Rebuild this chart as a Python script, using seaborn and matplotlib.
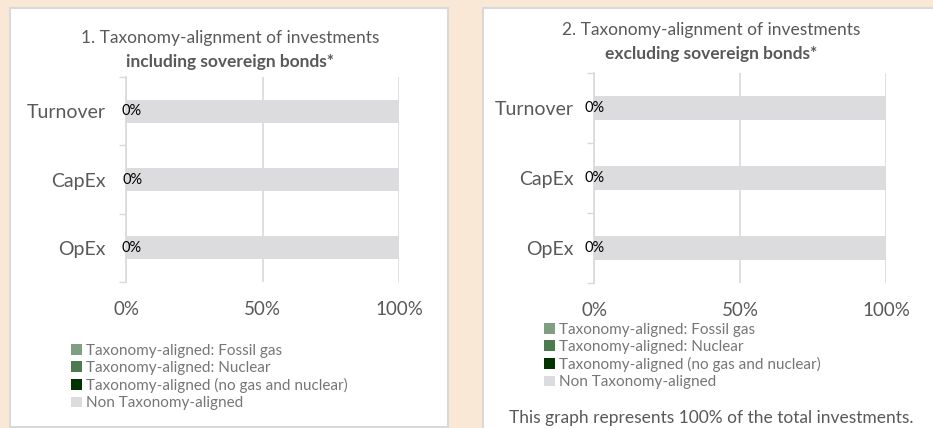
import matplotlib.pyplot as plt
import seaborn as sns
from matplotlib.patches import Patch, Rectangle

# data
categories = ["Turnover", "CapEx", "OpEx"]
series_names = [
    "Taxonomy-aligned: Fossil gas",
    "Taxonomy-aligned: Nuclear",
    "Taxonomy-aligned (no gas and nuclear)",
    "Non Taxonomy-aligned",
]
series_colors = ["#7f9f80", "#4e7a50", "#003300", "#dcdcde"]

incl_fossil = [0, 0, 0]
incl_nuclear = [0, 0, 0]
incl_aligned = [0, 0, 0]
incl_non = [100, 100, 100]

excl_fossil = [0, 0, 0]
excl_nuclear = [0, 0, 0]
excl_aligned = [0, 0, 0]
excl_non = [100, 100, 100]

x_ticks = [0, 50, 100]
x_tick_labels = ["0%", "50%", "100%"]

panel_titles = [
    ("1. Taxonomy-alignment of investments", "including sovereign bonds*"),
    ("2. Taxonomy-alignment of investments", "excluding sovereign bonds*"),
]
footer = "This graph represents 100% of the total investments."

sns.set_theme(style="white")
plt.rcParams["font.family"] = ["Lato", "DejaVu Sans"]

W, H = 933, 428
fig = plt.figure(figsize=(W / 100, H / 100), dpi=100)
fig.patch.set_facecolor("#fae8d6")


def fx(px):
    return px / W


def fy(py):
    return 1 - py / H


# white panel boxes, kept behind the axes
for x0, y0, x1, y1 in [(10, 8, 448, 427), (483, 8, 940, 440)]:
    fig.patches.append(Rectangle((fx(x0), fy(y1)), fx(x1 - x0), (y1 - y0) / H,
                                 transform=fig.transFigure, facecolor="white",
                                 edgecolor="#d9d9d9", linewidth=1.5, zorder=-5))

grid_c = "#d9d9d9"
text_c = "#595959"


def draw_panel(ax, parts, title, title_xy, label_off, bar_w, legend_xy):
    cum = []
    total = [0, 0, 0]
    for p in parts:
        total = [a + b for a, b in zip(total, p)]
        cum.append(total)
    # back to front so each stacked segment shows
    for i in reversed(range(len(parts))):
        sns.barplot(x=cum[i], y=categories, orient="h", color=series_colors[i],
                    width=bar_w, linewidth=0, saturation=1, ax=ax, zorder=2)
    ax.set_xlim(0, 100)
    ax.set_ylim(2.5, -0.5)
    ax.set_xticks(x_ticks)
    ax.set_xticklabels(x_tick_labels, fontsize=13.5, color=text_c)
    ax.tick_params(axis="x", length=0, pad=14)
    ax.tick_params(axis="y", which="major", length=0, pad=14.5, labelsize=14,
                   labelcolor=text_c)
    ax.set_yticks([-0.5, 0.5, 1.5, 2.5], minor=True)
    ax.tick_params(axis="y", which="minor", length=5, width=1, color=grid_c, left=True)
    ax.grid(axis="x", color=grid_c, linewidth=1.2, zorder=1)
    ax.set_axisbelow(True)
    for s in ["top", "right", "bottom"]:
        ax.spines[s].set_visible(False)
    ax.spines["left"].set_color(grid_c)
    ax.spines["left"].set_linewidth(1.2)
    ax.set_xlabel("")
    ax.set_ylabel("")
    ax.set_facecolor("white")
    # data labels for the aligned share
    for j, cat in enumerate(categories):
        ax.annotate(f"{parts[2][j]:.0f}%", xy=(0, j), xytext=(label_off[j], 0),
                    textcoords="offset points", ha="center", va="center",
                    fontsize=10.5, color="black", zorder=3)
    tx, ty = title_xy
    fig.text(fx(tx), fy(ty), title[0], ha="center", va="center", fontsize=12.5,
             color=text_c)
    fig.text(fx(tx), fy(ty + 24), title[1], ha="center", va="center", fontsize=12.5,
             color=text_c, fontweight="bold")
    handles = [Patch(facecolor=c, edgecolor="none") for c in series_colors]
    fig.legend(handles, series_names, loc="upper left",
               bbox_to_anchor=(fx(legend_xy[0]), fy(legend_xy[1])),
               frameon=False, fontsize=11, labelcolor="#767676",
               handlelength=0.7, handleheight=0.7, handletextpad=0.3,
               labelspacing=0.2, borderpad=0, borderaxespad=0)


ax1 = fig.add_axes([fx(126), fy(282), fx(399 - 126), (282 - 77) / H])
draw_panel(ax1, [incl_fossil, incl_nuclear, incl_aligned, incl_non], panel_titles[0],
           (230, 38), [4, 5, 4], 0.34, (71, 344))

ax2 = fig.add_axes([fx(594), fy(283), fx(886 - 594), (283 - 73) / H])
draw_panel(ax2, [excl_fossil, excl_nuclear, excl_aligned, excl_non], panel_titles[1],
           (711, 30), [0.5, 0.5, 0.5], 0.33, (544, 323))

fig.text(fx(711), fy(418), footer, ha="center", va="center", fontsize=12.5, color=text_c)

fig.savefig("out.png", dpi=100, facecolor=fig.get_facecolor())
